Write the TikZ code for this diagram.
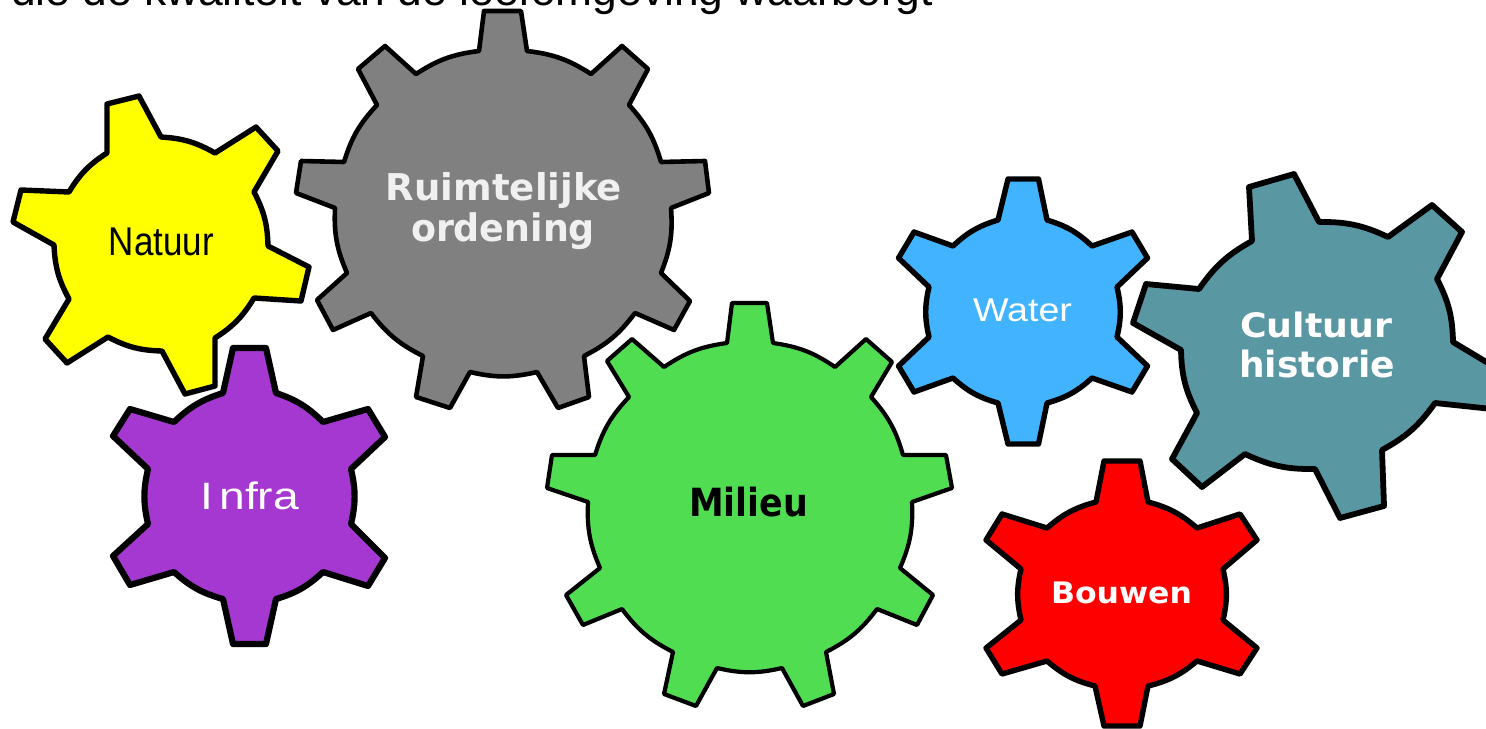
\documentclass[tikz,border=0pt]{standalone}
\usepackage{graphicx}
\usepackage{fontspec}
\setmainfont{Liberation Sans}
\newfontfamily\boldlabel{DejaVu Sans Bold}
\definecolor{cYellow}{HTML}{FFFF00}
\definecolor{cGray}{HTML}{808080}
\definecolor{cGreen}{HTML}{50DD52}
\definecolor{cBlue}{HTML}{42B4FF}
\definecolor{cTeal}{HTML}{5997A3}
\definecolor{cPurple}{HTML}{A638D2}
\definecolor{cRed}{HTML}{FF0000}
\newcommand\fitlabel[3]{\resizebox*{#1pt}{#2pt}{#3}}
\tikzset{
  gear/.style={draw=black,line join=round,line width=#1},
  gear/.default=2.7pt,
  lab/.style={inner sep=0pt,outer sep=0pt},
  arcA/.style={bend left=13}
}
\begin{document}
\begin{tikzpicture}[x=0.5pt,y=-0.5pt]
\useasboundingbox (0,0) rectangle (1486,728);
\clip (0,0) rectangle (1486,728);
\node[lab,anchor=base west] (head) at (11,6) {\resizebox{461pt}{!}{die de kwaliteit van de leefomgeving waarborgt}};
% Natuur
\filldraw[gear,fill=cYellow] (107,104) -- (139,96) -- (161,137) to[arcA] (215,153) -- (256,127) -- (278,151) -- (254,192) to[arcA] (268,246) -- (309,267) -- (301,301) -- (254,298) to[arcA] (215,338) -- (215,386) -- (185,394) -- (162,351) to[arcA] (108,337) -- (67,363) -- (45,339) -- (69,299) to[arcA] (54,245) -- (13,222) -- (21,190) -- (69,192) to[arcA] (107,153) -- cycle;
% Ruimtelijke ordening
\filldraw[gear=2.3pt,fill=cGray] (484,11) -- (521,11) -- (527,51) to[arcA] (591,74) -- (622,46) -- (648,69) -- (629,105) to[arcA] (661,162) -- (705,161) -- (709,193) -- (671,208) to[arcA] (661,273) -- (690,301) -- (674,330) -- (635,313) to[arcA] (584,356) -- (589,397) -- (558,408) -- (537,372) to[arcA] (470,372) -- (450,408) -- (416,397) -- (423,356) to[arcA] (371,313) -- (333,330) -- (317,300) -- (347,273) to[arcA] (335,208) -- (296,193) -- (301,161) -- (344,162) to[arcA] (377,105) -- (358,69) -- (385,46) -- (416,74) to[arcA] (479,51) -- cycle;
% Milieu
\filldraw[gear=2.1pt,fill=cGreen] (732,303) -- (767,303) -- (773,343) to[arcA] (835,367) -- (866,339) -- (892,362) -- (871,397) to[arcA] (903,455) -- (946,455) -- (952,488) -- (912,502) to[arcA] (900,568) -- (933,595) -- (917,625) -- (877,609) to[arcA] (826,652) -- (834,694) -- (803,706) -- (782,668) to[arcA] (717,668) -- (696,706) -- (664,694) -- (673,652) to[arcA] (622,609) -- (583,625) -- (566,595) -- (600,568) to[arcA] (588,502) -- (547,488) -- (552,455) -- (595,455) to[arcA] (629,397) -- (607,361) -- (632,339) -- (664,367) to[arcA] (727,343) -- cycle;
% Water
\filldraw[gear,fill=cBlue] (1008,179) -- (1038.5,179) -- (1047,220) to[arcA] (1092,246) -- (1132,232) -- (1147.5,258) -- (1117,287) to[arcA] (1117,337) -- (1147.5,366) -- (1132,392) -- (1092,378) to[arcA] (1047,403) -- (1038.5,444) -- (1008,444) -- (998,403) to[arcA] (953,378) -- (914,392) -- (898.5,366) -- (929,337) to[arcA] (929,287) -- (898.5,258) -- (914,232) -- (953,246) to[arcA] (998,220) -- cycle;
% Cultuur historie
\filldraw[gear=2.9pt,fill=cTeal] (1249,187) -- (1294,174) -- (1319,222) to[arcA] (1388,237) -- (1432,205) -- (1462,232) -- (1437,279) to[arcA] (1453,342) -- (1503,372) -- (1492,409) -- (1435,403) to[arcA] (1382,450) -- (1384,506) -- (1340,518) -- (1315,469) to[arcA] (1245,454) -- (1202,487) -- (1172,459) -- (1197,413) to[arcA] (1181,350) -- (1133,323) -- (1146,284) -- (1199,289) to[arcA] (1252,241) -- cycle;
% Infra
\filldraw[gear=3.1pt,fill=cPurple] (233,348) -- (266,348) -- (276,393) to[arcA] (323,422) -- (368,409) -- (385,437) -- (351,469) to[arcA] (351,524) -- (385,558) -- (368,586) -- (323,572) to[arcA] (276,599) -- (266,644) -- (233,644) -- (223,599) to[arcA] (174,572) -- (130,585) -- (113,556) -- (148,524) to[arcA] (148,469) -- (113,436) -- (130,409) -- (174,422) to[arcA] (223,393) -- cycle;
% Bouwen
\filldraw[gear,fill=cRed] (1104,461) -- (1140,461) -- (1148,502) to[arcA] (1197,528) -- (1240,514) -- (1257,540) -- (1223,569) to[arcA] (1223,620) -- (1257,648) -- (1240,674) -- (1197,661) to[arcA] (1148,686) -- (1140,726) -- (1104,726) -- (1095,686) to[arcA] (1047,661) -- (1002,674) -- (986,648) -- (1021,620) to[arcA] (1021,569) -- (986,540) -- (1002,514) -- (1047,528) to[arcA] (1096,502) -- cycle;
% Labels
\node[lab,text=black] (natuur) at (161.5,242) {\fitlabel{52.5}{14}{Natuur}};
\node[lab,text=white!94!black] (ruimte) at (504,190) {\fitlabel{118}{18}{\boldlabel Ruimtelijke}};
\node[lab,text=white!94!black] (orde) at (503,231.5) {\fitlabel{92}{18.5}{\boldlabel ordening}};
\node[lab,text=black] (milieu) at (748.5,502) {\fitlabel{59.5}{15}{\boldlabel Milieu}};
\node[lab,text=white] (water) at (1022.5,310.5) {\fitlabel{49.5}{11.5}{Water}};
\node[lab,text=white] (cultuur) at (1316,325) {\fitlabel{76}{13}{\boldlabel Cultuur}};
\node[lab,text=white] (historie) at (1317,364) {\fitlabel{78}{14}{\boldlabel historie}};
\node[lab,text=white] (infra) at (250,496) {\fitlabel{49}{14}{I\kern0.12em nfra}};
\node[lab,text=white] (bouwen) at (1121.5,593) {\fitlabel{70.5}{11}{\boldlabel Bouwen}};
\end{tikzpicture}
\end{document}
